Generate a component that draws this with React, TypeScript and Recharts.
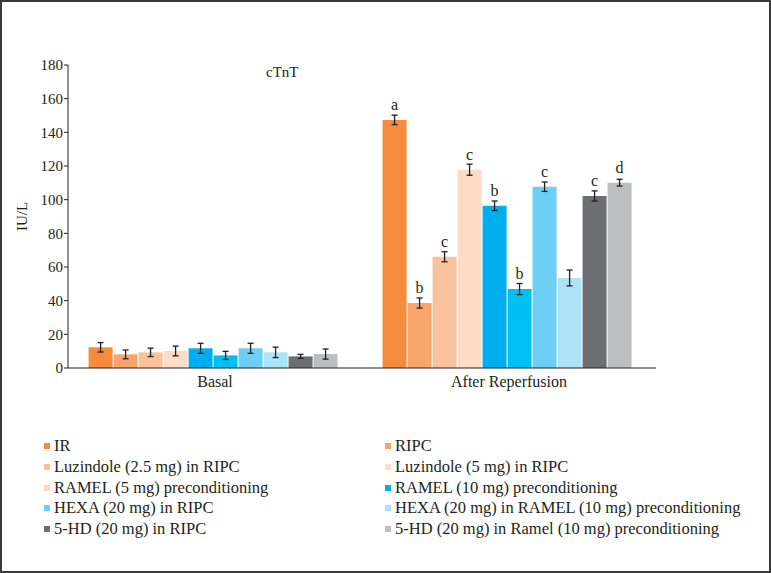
import {
  BarChart, Bar, XAxis, YAxis, ErrorBar, LabelList, Legend,
} from "recharts";

const categories = ["Basal", "After Reperfusion"];

const seriesNames = [
  "IR",
  "RIPC",
  "Luzindole (2.5 mg) in RIPC",
  "Luzindole (5 mg) in RIPC",
  "RAMEL (5 mg) preconditioning",
  "RAMEL (10 mg) preconditioning",
  "HEXA (20 mg) in RIPC",
  "HEXA (20 mg) in RAMEL (10 mg) preconditioning",
  "5-HD (20 mg) in RIPC",
  "5-HD (20 mg) in Ramel (10 mg) preconditioning",
];

const basalMeans = [12.3, 8.1, 9.3, 10.1, 11.7, 7.5, 11.7, 9.3, 6.9, 8.3];
const basalErrors = [2.8, 2.6, 2.5, 2.9, 3.0, 2.4, 3.0, 3.1, 1.2, 3.0];

const reperfusionMeans = [147.4, 38.6, 66.1, 117.8, 96.4, 46.9, 107.7, 53.5, 102.2, 110.1];
const reperfusionErrors = [2.8, 3.0, 3.0, 3.3, 2.8, 3.3, 2.8, 4.7, 3.0, 2.0];
const reperfusionLetters = ["a", "b", "c", "c", "b", "b", "c", "", "c", "d"];

const yTicks = [0, 20, 40, 60, 80, 100, 120, 140, 160, 180];

// bar fills; the legend swatches in the original don't quite match the bars
const barColors = [
  "#f68b3d", "#f8a56b", "#f9c29c", "#fcdcc6", "#00aeef",
  "#00c0f3", "#6dcff6", "#ade2f9", "#6d6e71", "#bcbec0",
];
const legendColors = [
  "#f68b3d", "#f8a56b", "#f9c29c", "#fcdcc6", "#fcd8c0",
  "#00aeef", "#6dcff6", "#ade2f9", "#6d6e71", "#bcbec0",
];

const ink = "#231f20";
const font = "Liberation Serif, Times New Roman, Times, DejaVu Serif, serif";

const data = categories.map((category, c) => {
  const row: Record<string, string | number> = { category };
  seriesNames.forEach((_, i) => {
    row[`s${i}`] = c === 0 ? basalMeans[i] : reperfusionMeans[i];
    row[`e${i}`] = c === 0 ? basalErrors[i] : reperfusionErrors[i];
    row[`l${i}`] = c === 0 ? "" : reperfusionLetters[i];
  });
  return row;
});

function LegendGrid() {
  return (
    <div style={{
      display: "grid", gridTemplateColumns: "341px 380px",
      fontFamily: font, fontSize: 16.5, color: ink,
    }}>
      {seriesNames.map((name, i) => (
        <div key={name} style={{ display: "flex", alignItems: "center", height: 20.7, whiteSpace: "nowrap" }}>
          <span style={{ width: 6, height: 6, background: legendColors[i], marginRight: 4, display: "inline-block" }} />
          {name}
        </div>
      ))}
    </div>
  );
}

export default function App() {
  return (
    <div style={{ position: "absolute", top: 0, left: 0, width: 771, height: 573, background: "#fff", fontFamily: font }}>
      <BarChart
        width={771}
        height={573}
        data={data}
        margin={{ top: 65, right: 115, left: 0, bottom: 175 }}
        barCategoryGap="7%"
        barGap={1}
        style={{ fontFamily: font }}
      >
        <XAxis
          xAxisId="frame"
          type="number"
          domain={[0, 2]}
          ticks={[0, 1, 2]}
          tick={false}
          axisLine={false}
          tickSize={5}
          tickLine={{ stroke: ink }}
          height={0}
        />
        <XAxis
          dataKey="category"
          axisLine={{ stroke: ink }}
          tickLine={false}
          tick={{ fill: ink, fontSize: 16, fontFamily: font }}
          height={30}
        />
        <YAxis
          domain={[0, 180]}
          ticks={yTicks}
          width={68}
          axisLine={{ stroke: ink }}
          tickLine={{ stroke: ink }}
          tickSize={4}
          tickMargin={1}
          tick={{ fill: ink, fontSize: 15, fontFamily: font }}
          label={{ value: "IU/L", angle: -90, position: "center", dx: -12, fill: ink, fontSize: 15, fontFamily: font }}
        />
        <Legend
          layout="horizontal"
          verticalAlign="middle"
          align="center"
          wrapperStyle={{ top: 436, left: 44, width: 720 }}
          content={() => <LegendGrid />}
        />
        {seriesNames.map((name, i) => (
          <Bar key={name} dataKey={`s${i}`} name={name} fill={barColors[i]} isAnimationActive={false}>
            <ErrorBar dataKey={`e${i}`} width={3} stroke={ink} strokeWidth={1.3} />
            <LabelList dataKey={`l${i}`} position="top" offset={10} fill={ink} fontSize={16} fontFamily={font} />
          </Bar>
        ))}
      </BarChart>
      <div style={{ position: "absolute", left: 266, top: 64, fontSize: 15, color: ink }}>cTnT</div>
      <div style={{ position: "absolute", inset: 0, border: "2px solid #3a3a3a", pointerEvents: "none" }} />
    </div>
  );
}
